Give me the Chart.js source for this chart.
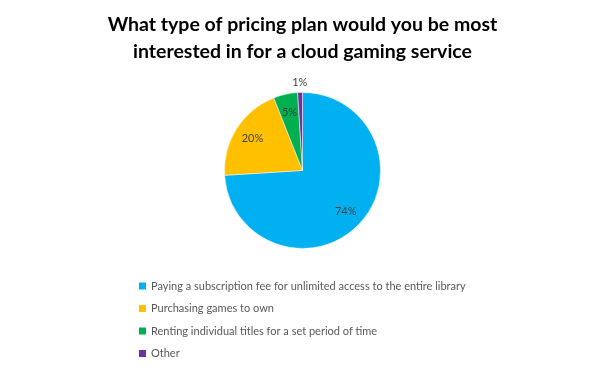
<!DOCTYPE html>
<html>
<head>
<meta charset="utf-8">
<script src="https://cdn.jsdelivr.net/npm/chart.js@4"></script>
<style>
  html, body { margin: 0; padding: 0; background: #fff; }
  #wrap { width: 605px; height: 372px; }
</style>
</head>
<body>
<div id="wrap"><canvas id="pricing-plan"></canvas></div>
<script>
const titleLines = ['What type of pricing plan would you be most', 'interested in for a cloud gaming service'];
const labels = [
  'Paying a subscription fee for unlimited access to the entire library',
  'Purchasing games to own',
  'Renting individual titles for a set period of time',
  'Other'
];
const values = [74, 20, 5, 1];
const colors = ['#00B0F0', '#FFC000', '#00B050', '#7030A0'];

// percent labels on the slices, small ones go outside
const sliceLabels = {
  id: 'sliceLabels',
  afterDatasetsDraw(chart) {
    const ctx = chart.ctx;
    const meta = chart.getDatasetMeta(0);
    const total = values.reduce((a, b) => a + b, 0);
    ctx.save();
    ctx.font = '11px Lato';
    ctx.fillStyle = '#404040';
    ctx.textAlign = 'center';
    ctx.textBaseline = 'middle';
    meta.data.forEach((arc, i) => {
      const pct = Math.round(values[i] / total * 100);
      const mid = (arc.startAngle + arc.endAngle) / 2;
      const d = pct >= 3 ? arc.outerRadius * 0.76 : arc.outerRadius + 10;
      ctx.fillText(pct + '%', arc.x + Math.cos(mid) * d, arc.y + Math.sin(mid) * d);
    });
    ctx.restore();
  }
};

// stacked legend under the pie
const stackedLegend = {
  id: 'stackedLegend',
  afterDraw(chart) {
    const ctx = chart.ctx;
    ctx.save();
    ctx.font = '11px Lato';
    ctx.textBaseline = 'middle';
    labels.forEach((lab, i) => {
      const y = 286 + i * 22.5;
      ctx.fillStyle = colors[i];
      ctx.fillRect(139, y - 3.5, 7, 7);
      ctx.fillStyle = '#595959';
      ctx.fillText(lab, 151, y);
    });
    ctx.restore();
  }
};

const ctx1 = document.getElementById('pricing-plan');
const chart1 = new Chart(ctx1, {
  type: 'pie',
  data: {
    labels: labels,
    datasets: [{
      data: values,
      backgroundColor: colors,
      borderColor: '#ffffff',
      borderWidth: 0.5
    }]
  },
  options: {
    responsive: true,
    maintainAspectRatio: false,
    animation: false,
    radius: 78,
    layout: {
      padding: { bottom: 104 }
    },
    plugins: {
      legend: { display: false },
      tooltip: { enabled: false },
      title: {
        display: true,
        text: titleLines,
        color: '#000000',
        font: { family: 'Lato', size: 19.5, weight: 'bold', lineHeight: 1.38 },
        padding: { top: 11, bottom: 8 }
      }
    }
  },
  plugins: [sliceLabels, stackedLegend]
});
</script>
</body>
</html>
